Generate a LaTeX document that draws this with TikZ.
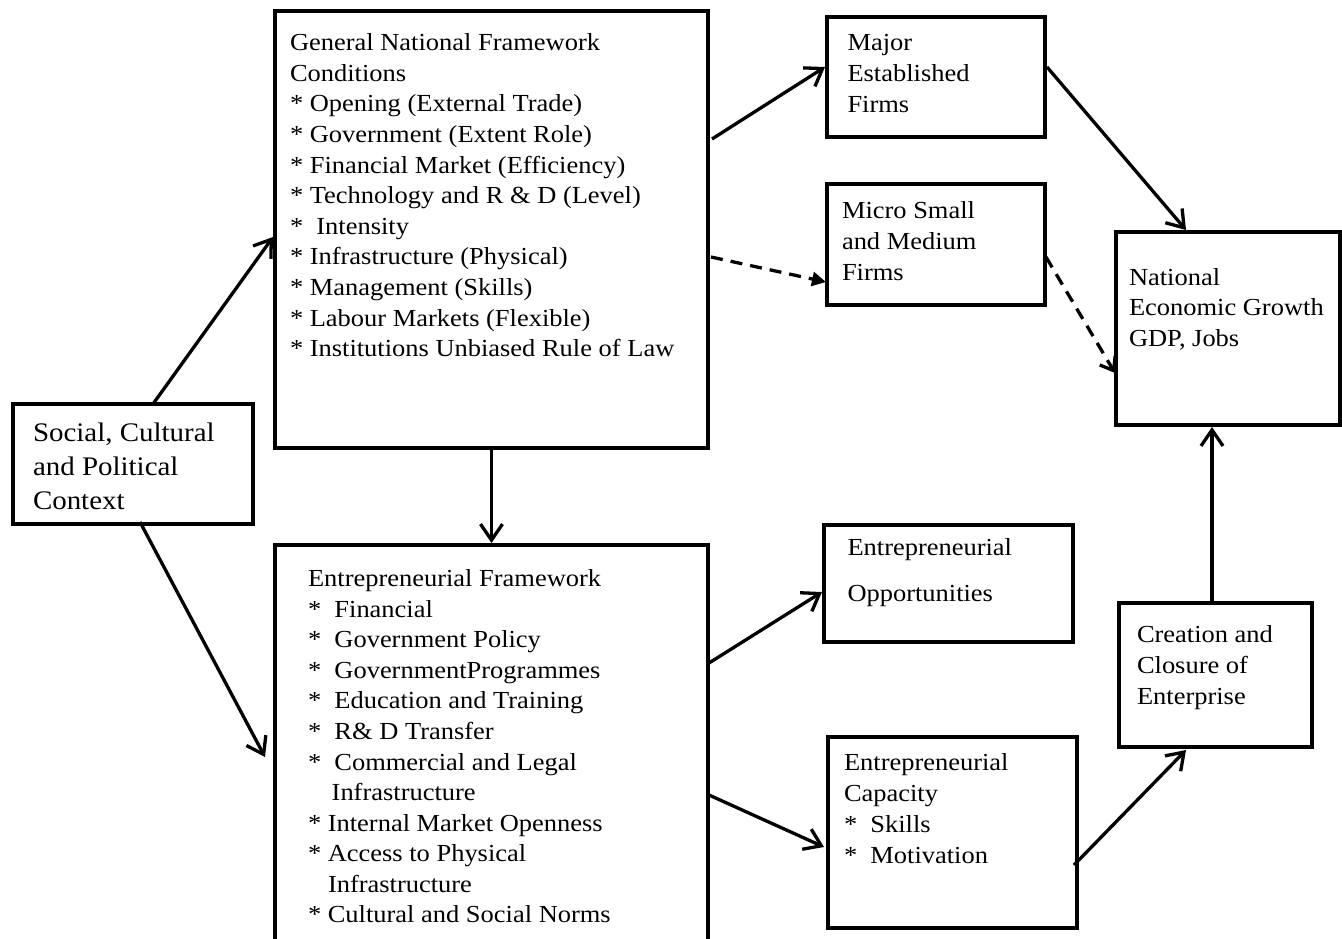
\documentclass[tikz,border=0pt]{standalone}
\usepackage{fontspec}
\setmainfont{Liberation Serif}[FakeStretch=1.08]
\usetikzlibrary{arrows.meta}
\newcommand{\boxtext}[3]{{\fontsize{#1}{#2}\selectfont\begin{tabular}[t]{@{}l@{}}#3\end{tabular}}}
\begin{document}
\begin{tikzpicture}[x=1pt,y=-1pt,
  frame/.style={draw=black, line width=4pt, rectangle, inner sep=0pt, outer sep=0pt, anchor=north west},
  lbl/.style={inner sep=0pt, outer sep=0pt, anchor=base west},
  arr/.style={line width=3.3pt, -{Straight Barb[length=16pt,width=22pt,line width=3.3pt]}},
  darr/.style={line width=3.3pt, dash pattern=on 12pt off 8pt, -{Straight Barb[length=12pt,width=18pt,line width=3.3pt]}},
  tarr/.style={line width=3.3pt, dash pattern=on 12pt off 8pt, -{Triangle[length=14pt,width=14pt]}}]
\clip (0,0) rectangle (1342,938);
\fill[white] (0,0) rectangle (1342,938);
% boxes
\node[frame, minimum width=240pt, minimum height=120pt] (social) at (13,404) {};
\node[frame, minimum width=433pt, minimum height=437pt] (gnf) at (275,11) {};
\node[frame, minimum width=433pt, minimum height=400pt] (ef) at (275,545) {};
\node[frame, minimum width=218pt, minimum height=120pt] (mef) at (827,17) {};
\node[frame, minimum width=218pt, minimum height=121pt] (msmf) at (827,184) {};
\node[frame, minimum width=224pt, minimum height=193pt] (neg) at (1116,232) {};
\node[frame, minimum width=249pt, minimum height=117pt] (eo) at (824,525) {};
\node[frame, minimum width=193pt, minimum height=144pt] (creation) at (1119,603) {};
\node[frame, minimum width=249pt, minimum height=191pt] (ec) at (828,737) {};
% texts
\node[lbl] (socialtxt) at (33,441.7) {\boxtext{26.8}{33.8}{Social, Cultural\\and Political\\Context}};
\node[lbl] (gnftxt) at (290,50.7) {\boxtext{24.5}{30.6}{General National Framework\\
Conditions\\
{*} Opening (External Trade)\\
{*} Government (Extent Role)\\
{*} Financial Market (Efficiency)\\
{*} Technology and R \& D (Level)\\
{*}\ \ Intensity\\
{*} Infrastructure (Physical)\\
{*} Management (Skills)\\
{*} Labour Markets (Flexible)\\
{*} Institutions Unbiased Rule of Law}};
\node[lbl] (eftxt) at (308,586.7) {\boxtext{24.5}{30.55}{Entrepreneurial Framework\\
{*}\ \ Financial\\
{*}\ \ Government Policy\\
{*}\ \ GovernmentProgrammes\\
{*}\ \ Education and Training\\
{*}\ \ R\& D Transfer\\
{*}\ \ Commercial and Legal\\
\hspace*{23.7pt}Infrastructure\\
{*} Internal Market Openness\\
{*} Access to Physical\\
\hspace*{20pt}Infrastructure\\
{*} Cultural and Social Norms}};
\node[lbl] (meftxt) at (847.5,50.7) {\boxtext{24.5}{31}{Major\\Established\\Firms}};
\node[lbl] (msmftxt) at (842,218.3) {\boxtext{24.5}{31}{Micro Small\\and Medium\\Firms}};
\node[lbl] (negtxt) at (1129,285) {\boxtext{24.5}{30.8}{National\\Economic Growth\\GDP, Jobs}};
\node[lbl] (eotxt) at (847.5,555) {\boxtext{24.5}{31}{Entrepreneurial\\[15.7pt]Opportunities}};
\node[lbl] (creationtxt) at (1137,642.7) {\boxtext{24.5}{30.7}{Creation and\\Closure of\\Enterprise}};
\node[lbl] (ectxt) at (844,770.7) {\boxtext{24.5}{30.9}{Entrepreneurial\\Capacity\\{*}\ \ Skills\\{*}\ \ Motivation}};
% connectors
\draw[arr] ([shift={(20,0)}]social.north) -- ([shift={(-2,7.5)}]gnf.west);
\draw[arr] ([shift={(7,-2)}]social.south) -- ([shift={(-10,12)}]ef.west);
\draw[arr] (gnf.south) -- ([shift={(0,-2)}]ef.north);
\draw[arr] ([shift={(4,-90.5)}]gnf.east) -- ([shift={(-2,-10)}]mef.west);
\draw[tarr] ([shift={(3,27.5)}]gnf.east) -- ([shift={(-1,37.5)}]msmf.west);
\draw[arr] ([shift={(2,-10)}]mef.east) -- ([shift={(-42,-2)}]neg.north);
\draw[darr] ([shift={(1,12.5)}]msmf.east) -- ([shift={(-1,44.5)}]neg.west);
\draw[arr] ([shift={(1,-82)}]ef.east) -- ([shift={(-2,8.5)}]eo.west);
\draw[arr] ([shift={(1,50)}]ef.east) -- ([shift={(-4,14.5)}]ec.west);
\draw[arr] ([shift={(-3,32.5)}]ec.east) -- ([shift={(-29.5,3)}]creation.south);
\draw[arr] ([shift={(-3.5,0)}]creation.north) -- ([shift={(-16,2)}]neg.south);
\end{tikzpicture}
\end{document}
